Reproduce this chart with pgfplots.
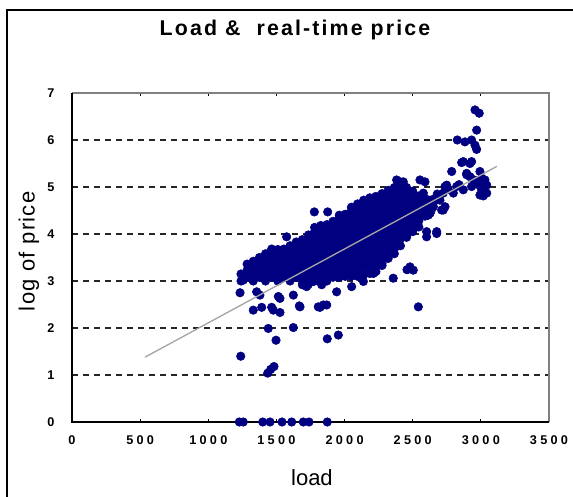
\documentclass[border=0pt]{standalone}
\usepackage{fontspec}
\setmainfont{Liberation Sans}
\newfontfamily\tickfont[LetterSpace=26]{Liberation Sans}
\newfontfamily\titlefont[LetterSpace=10]{Liberation Sans}
\newfontfamily\ylabfont[LetterSpace=6]{Liberation Sans}
\usepackage{pgfplots}
\pgfplotsset{compat=1.18}
\definecolor{navy}{RGB}{0,0,128}
\definecolor{trendgray}{RGB}{165,165,165}
\begin{document}
\begin{tikzpicture}[x=1pt,y=1pt]
\useasboundingbox (0,0) rectangle (429.75,372);
\draw[line width=1.5pt] (4.875,-10) -- (4.875,364.5) -- (440,364.5);
\begin{axis}[at={(54pt,55.5pt)}, anchor=south west, scale only axis,
 width=357.75pt, height=246.75pt,
 xmin=0, xmax=3500, ymin=0, ymax=7,
 xtick={0,500,...,3500}, ytick={0,1,...,7},
 clip=false, clip marker paths=true,
 axis line style={draw=none},
 ymajorgrids,
 grid style={black!85, line width=1.2pt, dash pattern=on 4.5pt off 3.75pt},
 xtick style={black, line width=0.8pt}, major tick length=2.5pt,
 ytick style={draw=none},
 /pgf/number format/assume math mode=true,
 /pgf/number format/1000 sep={},
 xticklabel style={font=\tickfont\bfseries\fontsize{9.5}{10}\selectfont, yshift=-7pt},
 yticklabel style={font=\bfseries\fontsize{9.5}{10}\selectfont, xshift=-9.6pt},
 title={Load \&\ \ real-time price},
 title style={at={(axis description cs:0.4675,1.151)}, anchor=base, font=\titlefont\bfseries\fontsize{16}{18}\selectfont},
 xlabel={load},
 xlabel style={at={(axis description cs:0.503,-0.1927)}, anchor=base, font=\fontsize{16.5}{19}\selectfont},
 ylabel={log of price},
 ylabel style={at={(axis description cs:-0.0784,0.519)}, anchor=base, font=\ylabfont\fontsize{16.5}{19}\selectfont},
]
\draw[black!50, line width=1.1pt] (rel axis cs:0,1) -- (rel axis cs:1,1) -- (rel axis cs:1,0);
\draw[black, line width=1.1pt] (rel axis cs:0,1) -- (rel axis cs:0,0) -- (rel axis cs:1,0);
% dense body
\addplot[only marks, mark=*, mark size=3.2pt, color=navy] coordinates {
(1240,3.00)(1240,3.15)
(1285,3.08)(1285,3.23)(1285,3.36)
(1330,3.00)(1330,3.15)(1330,3.30)(1330,3.42)
(1375,3.08)(1375,3.23)(1375,3.38)(1375,3.50)
(1420,3.00)(1420,3.15)(1420,3.30)(1420,3.45)(1420,3.58)
(1465,3.08)(1465,3.23)(1465,3.38)(1465,3.53)(1465,3.68)
(1510,3.00)(1510,3.15)(1510,3.30)(1510,3.45)(1510,3.60)(1510,3.67)
(1555,3.08)(1555,3.23)(1555,3.38)(1555,3.53)(1555,3.68)
(1600,3.00)(1600,3.15)(1600,3.30)(1600,3.45)(1600,3.60)(1600,3.75)
(1645,3.08)(1645,3.23)(1645,3.38)(1645,3.53)(1645,3.68)(1645,3.83)
(1690,2.92)(1690,3.00)(1690,3.15)(1690,3.30)(1690,3.45)(1690,3.60)(1690,3.75)(1690,3.88)
(1735,2.93)(1735,3.08)(1735,3.23)(1735,3.38)(1735,3.53)(1735,3.68)(1735,3.83)(1735,3.98)
(1780,3.00)(1780,3.15)(1780,3.30)(1780,3.45)(1780,3.60)(1780,3.75)(1780,3.90)(1780,4.05)(1780,4.14)
(1825,2.98)(1825,3.08)(1825,3.23)(1825,3.38)(1825,3.53)(1825,3.68)(1825,3.83)(1825,3.98)(1825,4.13)(1825,4.18)
(1870,3.00)(1870,3.15)(1870,3.30)(1870,3.45)(1870,3.60)(1870,3.75)(1870,3.90)(1870,4.05)(1870,4.20)
(1915,3.08)(1915,3.23)(1915,3.38)(1915,3.53)(1915,3.68)(1915,3.83)(1915,3.98)(1915,4.13)(1915,4.27)
(1960,3.08)(1960,3.15)(1960,3.30)(1960,3.45)(1960,3.60)(1960,3.75)(1960,3.90)(1960,4.05)(1960,4.20)(1960,4.33)
(2005,3.10)(2005,3.23)(2005,3.38)(2005,3.53)(2005,3.68)(2005,3.83)(2005,3.98)(2005,4.13)(2005,4.28)(2005,4.42)
(2050,3.10)(2050,3.20)(2050,3.30)(2050,3.45)(2050,3.60)(2050,3.75)(2050,3.90)(2050,4.05)(2050,4.20)(2050,4.35)(2050,4.50)(2050,4.57)
(2095,3.10)(2095,3.23)(2095,3.38)(2095,3.53)(2095,3.68)(2095,3.83)(2095,3.98)(2095,4.13)(2095,4.28)(2095,4.43)(2095,4.58)(2095,4.64)
(2140,3.13)(2140,3.30)(2140,3.45)(2140,3.60)(2140,3.75)(2140,3.90)(2140,4.05)(2140,4.20)(2140,4.35)(2140,4.50)(2140,4.65)(2140,4.72)
(2185,3.16)(2185,3.23)(2185,3.38)(2185,3.53)(2185,3.68)(2185,3.83)(2185,3.98)(2185,4.13)(2185,4.28)(2185,4.43)(2185,4.58)(2185,4.73)(2185,4.77)
(2230,3.20)(2230,3.30)(2230,3.45)(2230,3.60)(2230,3.75)(2230,3.90)(2230,4.05)(2230,4.20)(2230,4.35)(2230,4.50)(2230,4.65)(2230,4.80)
(2275,3.33)(2275,3.38)(2275,3.53)(2275,3.68)(2275,3.83)(2275,3.98)(2275,4.13)(2275,4.28)(2275,4.43)(2275,4.58)(2275,4.73)(2275,4.86)
(2320,3.48)(2320,3.60)(2320,3.75)(2320,3.90)(2320,4.05)(2320,4.20)(2320,4.35)(2320,4.50)(2320,4.65)(2320,4.80)(2320,4.93)
(2365,3.58)(2365,3.68)(2365,3.83)(2365,3.98)(2365,4.13)(2365,4.28)(2365,4.43)(2365,4.58)(2365,4.73)(2365,4.88)(2365,4.99)
(2410,3.75)(2410,3.90)(2410,4.05)(2410,4.20)(2410,4.35)(2410,4.50)(2410,4.65)(2410,4.80)(2410,4.95)(2410,4.99)
(2455,3.93)(2455,3.98)(2455,4.13)(2455,4.28)(2455,4.43)(2455,4.58)(2455,4.73)(2455,4.88)(2455,4.99)
(2500,4.05)(2500,4.20)(2500,4.35)(2500,4.50)(2500,4.65)(2500,4.80)(2500,4.91)
(2545,4.15)(2545,4.28)(2545,4.43)(2545,4.58)(2545,4.73)(2545,4.81)
(2590,4.38)(2590,4.50)(2590,4.65)(2590,4.76)
(2635,4.50)(2635,4.57)
};
% scattered points
\addplot[only marks, mark=*, mark size=3.2pt, color=navy] coordinates {
(1228,0)(1257,0)(1399,0)(1453,0)(1541,0)(1612,0)(1697,0)(1739,0)(1873,0)
(1238,1.40)(1436,1.04)(1458,1.12)(1482,1.18)(1440,1.99)(1497,1.74)(1624,2.01)(1873,1.77)(1954,1.85)
(1233,2.75)(1330,2.38)(1392,2.44)(1465,2.44)(1477,2.38)(1526,2.33)(1355,2.77)(1379,2.70)
(1526,2.63)(1624,2.70)(1668,2.47)(1820,2.44)(1844,2.49)(1869,2.49)(1807,2.45)(1942,2.77)
(1722,2.88)(1770,2.99)(1832,2.92)(2052,2.88)(2138,2.99)(1514,2.67)(1673,2.45)(2541,2.45)
(1257,3.02)(1282,3.09)(2211,3.16)(2357,3.06)(2480,3.30)(2458,3.24)(2504,3.23)
(1575,3.94)(1778,4.47)(1876,4.47)(1961,4.40)(2382,5.15)(2431,5.11)(2590,5.11)(2553,5.15)(2407,5.11)
(2602,3.94)(2676,4.01)(2614,4.40)(2712,4.51)(2737,4.58)(2602,4.05)(2676,4.05)
(2957,6.64)(2988,6.57)(2969,6.21)(2827,6.00)(2883,5.96)(2932,6.00)(2957,5.89)(2969,5.80)
(2859,5.52)(2932,5.54)(2871,5.54)(2920,5.50)(2786,5.33)(2896,5.29)(2920,5.22)(2993,5.33)
(3006,5.19)(3030,5.15)(3043,5.04)(3006,4.94)(3018,4.81)(2932,5.01)(2871,4.94)(2798,4.87)
(2737,5.01)(2724,4.87)(2700,4.72)(2627,4.72)(2602,4.58)(2578,4.87)(2614,4.44)(2724,4.51)
(2660,4.75)(2680,4.85)(2760,4.95)(2840,5.05)(2950,5.15)(2980,5.05)(2650,4.65)
(2896,5.26)(2945,5.15)(3006,5.04)(3043,4.87)(2993,4.83)(2822,5.01)(2749,5.04)(2651,4.58)(2627,4.44)
};
% trend line
\addplot[trendgray, line width=1pt] coordinates {(536,1.38) (3118,5.44)};
\end{axis}
\end{tikzpicture}
\end{document}
